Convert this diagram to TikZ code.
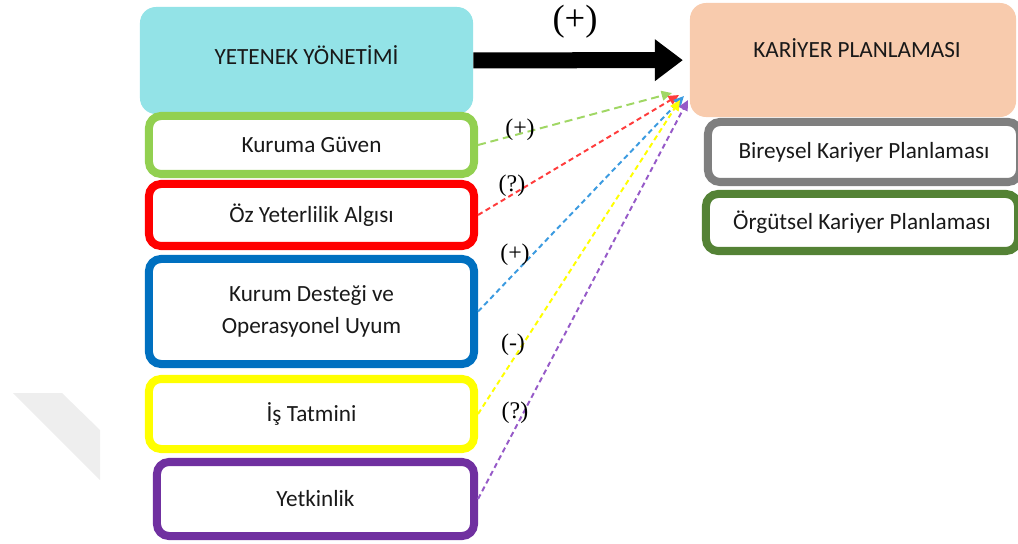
\documentclass[tikz,border=0pt]{standalone}
\usepackage{fontspec}
\setmainfont{Liberation Serif}
\newfontfamily\boxfont{Carlito}
\usepackage{xcolor}
\usetikzlibrary{arrows.meta}
\definecolor{ynmcyan}{RGB}{147,227,231}
\definecolor{kpeach}{RGB}{248,203,173}
\definecolor{kgreen}{RGB}{146,208,80}
\definecolor{kred}{RGB}{255,0,0}
\definecolor{kblue}{RGB}{0,112,192}
\definecolor{kyellow}{RGB}{255,255,0}
\definecolor{kpurple}{RGB}{112,48,160}
\definecolor{kgray}{RGB}{127,127,127}
\definecolor{kdarkgreen}{RGB}{84,130,53}
\definecolor{dblue}{RGB}{60,155,224}
\definecolor{dred}{RGB}{255,60,60}
\definecolor{dpurple}{RGB}{150,90,200}
\definecolor{dgreen}{RGB}{160,215,100}
\definecolor{ktext}{RGB}{25,25,25}
\definecolor{wmark}{RGB}{238,238,238}

\tikzset{
  headbox/.style={fill=#1, rounded corners=0.4cm, inner sep=0pt, text=ktext,
    font=\boxfont\fontsize{16.5}{22.5}\selectfont},
  itembox/.style={draw=#1, fill=white, line width=5.7pt, rounded corners=0.3cm,
    inner sep=0pt, align=center, text=ktext,
    font=\boxfont\fontsize{16.5}{22.5}\selectfont},
  dasharrow/.style={draw=#1, line width=1.4pt, dash pattern=on 1.3mm off 0.9mm,
    -{Triangle[length=2.6mm,width=2.4mm,fill=#1]}},
  signlabel/.style={inner sep=0pt, font=\fontsize{17}{18}\selectfont}
}

\begin{document}
\begin{tikzpicture}[x=0.025cm, y=-0.025cm]
  \useasboundingbox (0,0) rectangle (1018,544);

  % Watermark
  \fill[wmark] (13,393) -- (62,393) -- (100,430) -- (100,480) -- cycle;

  % Left side
  \node[headbox=ynmcyan, minimum width=8.325cm, minimum height=2.675cm] (yy) at (306.5,60.5) {};
  \node[text=ktext, font=\boxfont\fontsize{16.5}{18}\selectfont] (yytext) at (306.5,55) {YETENEK YÖNETİMİ};
  \node[itembox=kgreen, minimum width=8.125cm, minimum height=1.45cm] (kg) at (311.5,145) {Kuruma Güven};
  \node[itembox=kred, minimum width=8.125cm, minimum height=1.55cm] (oy) at (311.5,215) {Öz Yeterlilik Algısı};
  \node[itembox=kblue, minimum width=8.125cm, minimum height=2.625cm] (kd) at (311.5,311.5) {Kurum Desteği ve\\Operasyonel Uyum};
  \node[itembox=kyellow, minimum width=8.125cm, minimum height=1.75cm] (it) at (311.5,414) {İş Tatmini};
  \node[itembox=kpurple, minimum width=7.925cm, minimum height=1.85cm] (yk) at (315.5,499) {Yetkinlik};

  % Right side
  \node[headbox=kpeach, minimum width=8.15cm, minimum height=2.85cm] (kp) at (853,60) {};
  \node[text=ktext, font=\boxfont\fontsize{16.5}{18}\selectfont] (kptext) at (857,48) {KARİYER PLANLAMASI};
  \node[itembox=kgray, minimum width=7.8cm, minimum height=1.5cm] (bk) at (864,152) {Bireysel Kariyer Planlaması};
  \node[itembox=kdarkgreen, minimum width=7.8cm, minimum height=1.425cm] (ok) at (862,222.5) {Örgütsel Kariyer Planlaması};

  % Main relation
  \draw[line width=0.4cm, -{Triangle[length=7mm,width=10mm]}, shorten >=1.7mm] (yy) -- (kp);
  \node[signlabel, font=\fontsize{26}{28}\selectfont] (lmain) at (575,22) {(+)};

  % Dashed relations
  \coordinate (tg) at (672,93);
  \coordinate (tr) at (679,95);
  \coordinate (tb) at (684,96);
  \coordinate (ty) at (680,100);
  \coordinate (tp) at (688,100);
  \draw[dasharrow=dgreen, dash pattern=on 2mm off 1.2mm] (kg.east) -- (tg);
  \draw[dasharrow=dred] (oy.east) -- (tr);
  \draw[dasharrow=dblue] (kd.east) -- (tb);
  \draw[dasharrow=kyellow] (it.east) -- (ty);
  \draw[dasharrow=dpurple] (yk.east) -- (tp);

  \node[signlabel] (l1) at (520,130) {(+)};
  \node[signlabel] (l2) at (512,186) {(?)};
  \node[signlabel] (l3) at (515,255) {(+)};
  \node[signlabel] (l4) at (513,345) {(-)};
  \node[signlabel] (l5) at (515,413) {(?)};
\end{tikzpicture}
\end{document}
